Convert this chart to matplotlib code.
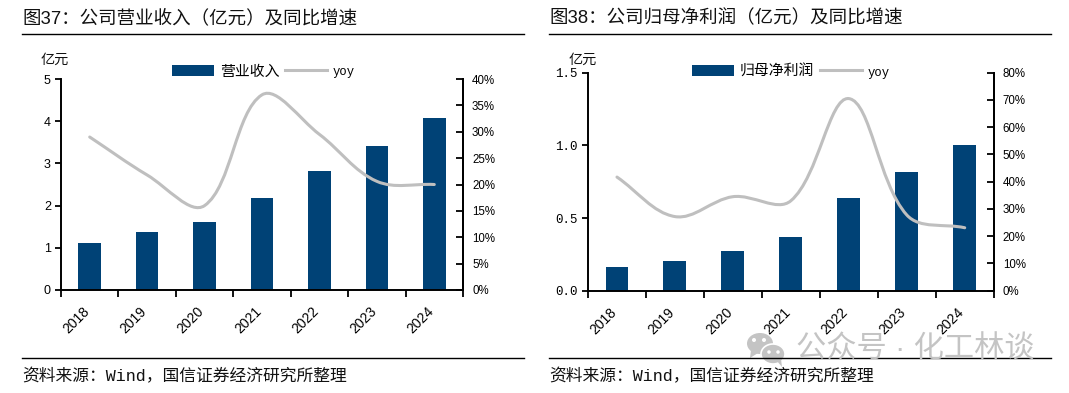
import matplotlib
matplotlib.use('Agg')
import matplotlib.pyplot as plt
from matplotlib.path import Path
from matplotlib.patches import PathPatch, Ellipse, Patch, Polygon
from matplotlib.lines import Line2D

plt.rcParams['font.family'] = ['Liberation Sans', 'Noto Sans CJK SC']

years = ['2018', '2019', '2020', '2021', '2022', '2023', '2024']

revenue = [1.12, 1.38, 1.60, 2.17, 2.82, 3.41, 4.07]
revenue_yoy = [29.0, 21.8, 16.0, 37.0, 29.5, 20.6, 20.0]

profit = [0.165, 0.205, 0.275, 0.37, 0.635, 0.82, 1.005]
profit_yoy = [41.7, 27.2, 34.5, 33.0, 70.5, 27.8, 23.1]

BAR = '#004276'
GREY = '#bfbfbf'
W, H = 1069, 393
MONO = ['Liberation Mono', 'Noto Sans CJK SC']


def smooth_path(xs, ys, sx, sy, t=0.36):
    # smoothed line like Excel: bezier handles scaled by the on-screen chord lengths
    n = len(xs)

    def chord(a, b):
        return (((xs[b] - xs[a]) * sx) ** 2 + ((ys[b] - ys[a]) * sy) ** 2) ** 0.5

    def handle(i, j):
        # handle at point i, pointing to neighbour j
        before = max(i - 1, 0)
        after = min(i + 1, n - 1)
        d_in = chord(before, i)
        d_out = chord(i, after)
        share = (d_out if j > i else d_in) / (d_in + d_out)
        sign = 1 if j > i else -1
        return (xs[i] + sign * (xs[after] - xs[before]) * share * t,
                ys[i] + sign * (ys[after] - ys[before]) * share * t)

    verts = [(xs[0], ys[0])]
    codes = [Path.MOVETO]
    for i in range(n - 1):
        verts += [handle(i, i + 1), handle(i + 1, i), (xs[i + 1], ys[i + 1])]
        codes += [Path.CURVE4] * 3
    return Path(verts, codes)


def draw_panel(fig, box, bars, yoy, left_ticks, left_fmt, left_font, right_ticks, bar_name, legend_x):
    x0, y0, x1, y1 = box
    ax = fig.add_axes([x0 / W, 1 - y1 / H, (x1 - x0) / W, (y1 - y0) / H])
    xs = list(range(len(years)))
    ax.bar(xs, bars, width=0.395, color=BAR, zorder=2)
    ax.set_xlim(-0.5, len(years) - 0.5)
    ax.set_ylim(left_ticks[0], left_ticks[-1])
    ax.set_yticks(left_ticks)
    ax.set_yticklabels([left_fmt.format(v) for v in left_ticks], family=left_font, fontsize=9)
    ax.set_xticks([i - 0.5 for i in range(len(years) + 1)])
    ax.set_xticklabels([])
    ax.tick_params(axis='x', length=5, width=1.3, direction='out')
    ax.tick_params(axis='y', length=4.3, width=1.3, direction='out', pad=3)
    for i, y in enumerate(years):
        ax.annotate(y, (i, 0), xycoords=('data', 'axes fraction'), xytext=(-2, -14),
                    textcoords='offset points', rotation=45, rotation_mode='anchor',
                    ha='right', va='center', fontsize=10)
    ax.spines['top'].set_visible(False)
    for s in ['left', 'bottom', 'right']:
        ax.spines[s].set_linewidth(1.4)

    ax2 = ax.twinx()
    ax2.set_ylim(0, right_ticks[-1])
    ax2.set_yticks(right_ticks)
    ax2.set_yticklabels(['{}%'.format(v) for v in right_ticks], fontsize=8.3)
    ax2.tick_params(axis='y', length=5, width=1.3, direction='in', pad=6.5)
    ax2.spines['top'].set_visible(False)
    ax2.spines['right'].set_linewidth(1.4)
    ax2.spines['left'].set_visible(False)
    ax2.spines['bottom'].set_visible(False)
    sx = (x1 - x0) / len(years)
    sy = (y1 - y0) / right_ticks[-1]
    line = PathPatch(smooth_path(xs, yoy, sx, sy), fill=False, edgecolor=GREY, linewidth=2.2,
                     capstyle='round', zorder=5)
    ax2.add_patch(line)

    handles = [Patch(facecolor=BAR, edgecolor='none'), Line2D([0], [0], color=GREY, linewidth=2.2)]
    leg = fig.legend(handles, [bar_name, 'yoy'], ncols=2, frameon=False, fontsize=10.7,
                     loc='center left', bbox_to_anchor=(legend_x / W, 1 - 71.5 / H),
                     handlelength=2.85, handletextpad=0.38, columnspacing=0.35,
                     borderpad=0, borderaxespad=0)
    leg.get_texts()[1].set_family(MONO)
    leg.get_texts()[1].set_fontsize(8.8)


fig = plt.figure(figsize=(W / 100, H / 100), dpi=100)

draw_panel(fig, (61, 79, 463, 290), revenue, revenue_yoy, [0, 1, 2, 3, 4, 5], '{:d}',
           ['Liberation Sans'], [0, 5, 10, 15, 20, 25, 30, 35, 40], '营业收入', 172)
draw_panel(fig, (588, 72.7, 993.7, 290.7), profit, profit_yoy, [0.0, 0.5, 1.0, 1.5], '{:.1f}',
           MONO, [0, 10, 20, 30, 40, 50, 60, 70, 80], '归母净利润', 692)

# rules, titles and watermark go on a full figure layer in pixel coordinates
top = fig.add_axes([0, 0, 1, 1], zorder=10)
top.set_xlim(0, W)
top.set_ylim(H, 0)
top.axis('off')
top.patch.set_alpha(0)

for x0, x1, title, unit_x in [(22, 523.5, '图37：公司营业收入（亿元）及同比增速', 41),
                              (549, 1050.7, '图38：公司归母净利润（亿元）及同比增速', 568.5)]:
    top.plot([x0, x1], [34, 34], color='black', linewidth=1.0)
    top.plot([x0, x1], [358, 358], color='black', linewidth=1.0)
    top.text(x0, 18, title, fontsize=13.3, va='center', ha='left', color='#111111')
    top.text(x0, 376, '资料来源：Wind，国信证券经济研究所整理', fontsize=12.1, va='center', ha='left',
             family=MONO, color='#111111')
    top.text(unit_x, 60, '亿元', fontsize=10.2, va='center', ha='left', color='#111111')

# watermark
WM = '#c4c4c4'
top.add_patch(Ellipse((760, 343.5), 26, 21, color=WM, linewidth=0))
top.add_patch(Polygon([(751, 350), (750, 358), (758, 353)], color=WM, linewidth=0))
top.add_patch(Ellipse((773, 354), 24, 20, facecolor=WM, edgecolor='white', linewidth=1.2))
top.add_patch(Polygon([(777, 361), (782, 367), (781, 359)], color=WM, linewidth=0))
for ex, ey, d in [(754, 340, 4), (764, 340, 4), (769, 352, 3.5), (778, 352, 3.5)]:
    top.add_patch(Ellipse((ex, ey), d, d, color='white', linewidth=0))
top.text(796, 349, '公众号 · 化工林谈', fontsize=21.8, va='center', ha='left', color=WM, weight='medium')

fig.savefig('out.png', dpi=100)
